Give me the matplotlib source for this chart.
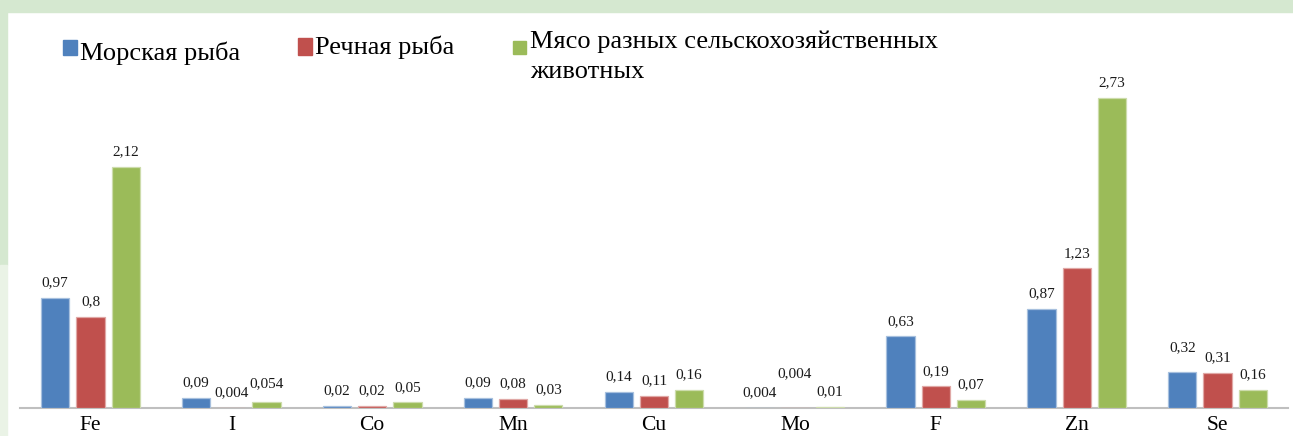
import matplotlib
matplotlib.use("Agg")
import matplotlib.pyplot as plt
from matplotlib.patches import Rectangle
import numpy as np

plt.rcParams['font.family'] = ['Liberation Serif', 'DejaVu Serif']

categories = ["Fe", "I", "Co", "Mn", "Cu", "Mo", "F", "Zn", "Se"]
sea_fish = [0.97, 0.09, 0.02, 0.09, 0.14, 0.004, 0.63, 0.87, 0.32]
river_fish = [0.8, 0.004, 0.02, 0.08, 0.11, 0.004, 0.19, 1.23, 0.31]
meat = [2.12, 0.054, 0.05, 0.03, 0.16, 0.01, 0.07, 2.73, 0.16]
sea_labels = ["0,97", "0,09", "0,02", "0,09", "0,14", "0,004", "0,63", "0,87", "0,32"]
river_labels = ["0,8", "0,004", "0,02", "0,08", "0,11", "0,004", "0,19", "1,23", "0,31"]
meat_labels = ["2,12", "0,054", "0,05", "0,03", "0,16", "0,01", "0,07", "2,73", "0,16"]
series_names = ["Морская рыба", "Речная рыба", "Мясо разных сельскохозяйственных"]
series_name_line2 = ["", "", "животных"]
colors = ["#4F81BD", "#C0504D", "#9BBB59"]
edge_colors = ["#a7c0de", "#e0a8a6", "#cddcac"]

W, H = 1293, 436
fig = plt.figure(figsize=(W / 100, H / 100), dpi=100)

# decorative green frame
fig.patches.append(Rectangle((0, 1 - 12 / H), 1, 12 / H, transform=fig.transFigure,
                             color="#d5e8d0", zorder=0))
fig.patches.append(Rectangle((0, 1 - 265 / H), 7 / W, (265 - 12) / H, transform=fig.transFigure,
                             color="#d5e8d0", zorder=0))
fig.patches.append(Rectangle((0, 0), 7 / W, 1 - 265 / H, transform=fig.transFigure,
                             color="#eaf3e6", zorder=0))

ax_left, ax_right, ax_bottom, ax_top = 20, 1288, 408, 33
ax = fig.add_axes([ax_left / W, 1 - ax_bottom / H, (ax_right - ax_left) / W, (ax_bottom - ax_top) / H])
ax.set_facecolor("none")

x = np.arange(len(categories))
bw = 0.2
step = 0.25
series = [sea_fish, river_fish, meat]
labels = [sea_labels, river_labels, meat_labels]
extra = {(0, 8): 9, (1, 5): 19, (2, 1): 3}
for s, (vals, labs, col, ec) in enumerate(zip(series, labels, colors, edge_colors)):
    xs = x + (s - 1) * step
    ax.bar(xs, vals, width=bw, color=col, edgecolor=ec, linewidth=0.9, zorder=3)
    for i, (xx, v, lab) in enumerate(zip(xs, vals, labs)):
        off = 15 + extra.get((s, i), 0)
        ax.annotate(lab, (xx, v), xytext=(0, off * 0.72), textcoords="offset points",
                    ha="center", va="center", fontsize=11, color="#1a1a1a")

ax.set_xlim(-0.5, len(categories) - 0.5)
ax.set_ylim(0, (ax_bottom - ax_top) / 113.6)
for sp in ["left", "right", "top"]:
    ax.spines[sp].set_visible(False)
ax.spines["bottom"].set_color("#bfbfbf")
ax.spines["bottom"].set_linewidth(1.5)
ax.set_yticks([])
ax.set_xticks(x)
ax.set_xticklabels(categories, fontsize=15.5)
ax.tick_params(axis="x", length=0, pad=6)

# legend drawn manually
leg = [(63, 40, 77, 55, 80, 60), (298, 38, 312, 55, 315, 54), (513, 41, 526, 54, 530, 48)]
for (x0, y0, x1, y1, tx, ty), col, name, name2 in zip(leg, colors, series_names, series_name_line2):
    fig.patches.append(Rectangle((x0 / W, 1 - y1 / H), (x1 - x0) / W, (y1 - y0) / H,
                                 transform=fig.transFigure, color=col, zorder=3))
    fig.text(tx / W, 1 - ty / H, name, fontsize=19, ha="left", va="baseline", color="black")
    if name2:
        fig.text(tx / W, 1 - (ty + 30) / H, name2, fontsize=19, ha="left", va="baseline",
                 color="black")

fig.savefig("out.png", dpi=100)
